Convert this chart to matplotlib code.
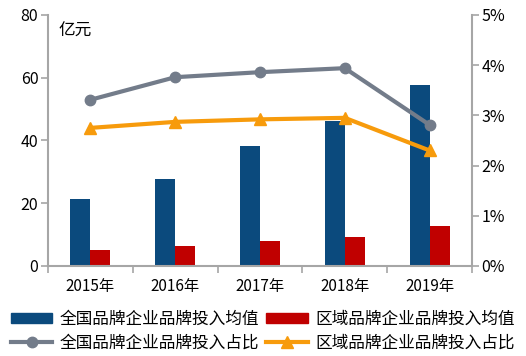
import matplotlib
matplotlib.use("Agg")
import matplotlib.pyplot as plt
import numpy as np
from matplotlib.lines import Line2D
from matplotlib.patches import Patch

plt.rcParams['font.family'] = ['Noto Sans CJK SC', 'DejaVu Sans']

years = ['2015年', '2016年', '2017年', '2018年', '2019年']
national_avg = [21.4, 27.7, 38.2, 46.3, 57.7]
regional_avg = [5.1, 6.4, 8.0, 9.3, 12.7]
national_share = [3.31, 3.76, 3.86, 3.94, 2.81]
regional_share = [2.75, 2.87, 2.92, 2.95, 2.30]
labels = ['全国品牌企业品牌投入均值', '区域品牌企业品牌投入均值',
          '全国品牌企业品牌投入占比', '区域品牌企业品牌投入占比']

c_blue = '#0B4A7D'
c_red = '#C00000'
c_gray = '#737C8A'
c_orange = '#F79B0C'
c_axis = '#A6A6A6'

fig = plt.figure(figsize=(5.26, 3.56), dpi=100)
ax = fig.add_axes([0.0913, 0.253, 0.806, 0.705])
x = np.arange(len(years))
w = 0.236
ax.bar(x - w/2, national_avg, w, color=c_blue, zorder=2)
ax.bar(x + w/2, regional_avg, w, color=c_red, zorder=2)
ax.set_xlim(-0.5, len(years) - 0.5)
ax.set_ylim(0, 80)
ax.set_yticks([0, 20, 40, 60, 80])
ax.set_xticks(x)
ax.set_xticklabels(years, fontsize=11)
ax.set_xticks(np.arange(-0.5, len(years)), minor=True)
ax.tick_params(axis='x', which='major', length=0, pad=9)
ax.tick_params(axis='x', which='minor', length=5, color=c_axis, width=1.2)
ax.tick_params(axis='y', length=5, color=c_axis, width=1.2, labelsize=11.5, pad=2)
for s in ['top', 'right']:
    ax.spines[s].set_visible(False)
for s in ['left', 'bottom']:
    ax.spines[s].set_color(c_axis)
    ax.spines[s].set_linewidth(1.5)
ax.text(0.025, 0.97, '亿元', transform=ax.transAxes, fontsize=12, va='top', ha='left')

ax2 = ax.twinx()
ax2.plot(x, national_share, color=c_gray, lw=3, marker='o', ms=7.5, zorder=3)
ax2.plot(x, regional_share, color=c_orange, lw=3, marker='^', ms=9, zorder=3)
ax2.set_ylim(0, 5)
ax2.set_yticks([0, 1, 2, 3, 4, 5])
ax2.set_yticklabels([f'{i}%' for i in range(6)])
ax2.tick_params(axis='y', length=5, color=c_axis, width=1.2, labelsize=11.5, pad=2)
for s in ['top', 'left', 'bottom']:
    ax2.spines[s].set_visible(False)
ax2.spines['right'].set_color(c_axis)
ax2.spines['right'].set_linewidth(1.5)

handles = [Patch(color=c_blue),
           Line2D([], [], color=c_gray, lw=3, marker='o', ms=7.5),
           Patch(color=c_red),
           Line2D([], [], color=c_orange, lw=3, marker='^', ms=8)]
hl = [labels[0], labels[2], labels[1], labels[3]]
fig.legend(handles, hl, ncol=2, loc='lower left', bbox_to_anchor=(-0.005, -0.025),
           frameon=False, fontsize=12, handlelength=2.5, handleheight=0.55,
           handletextpad=0.45, columnspacing=0.4, labelspacing=0.4, borderpad=0.3)

fig.savefig('out.png', dpi=100)
